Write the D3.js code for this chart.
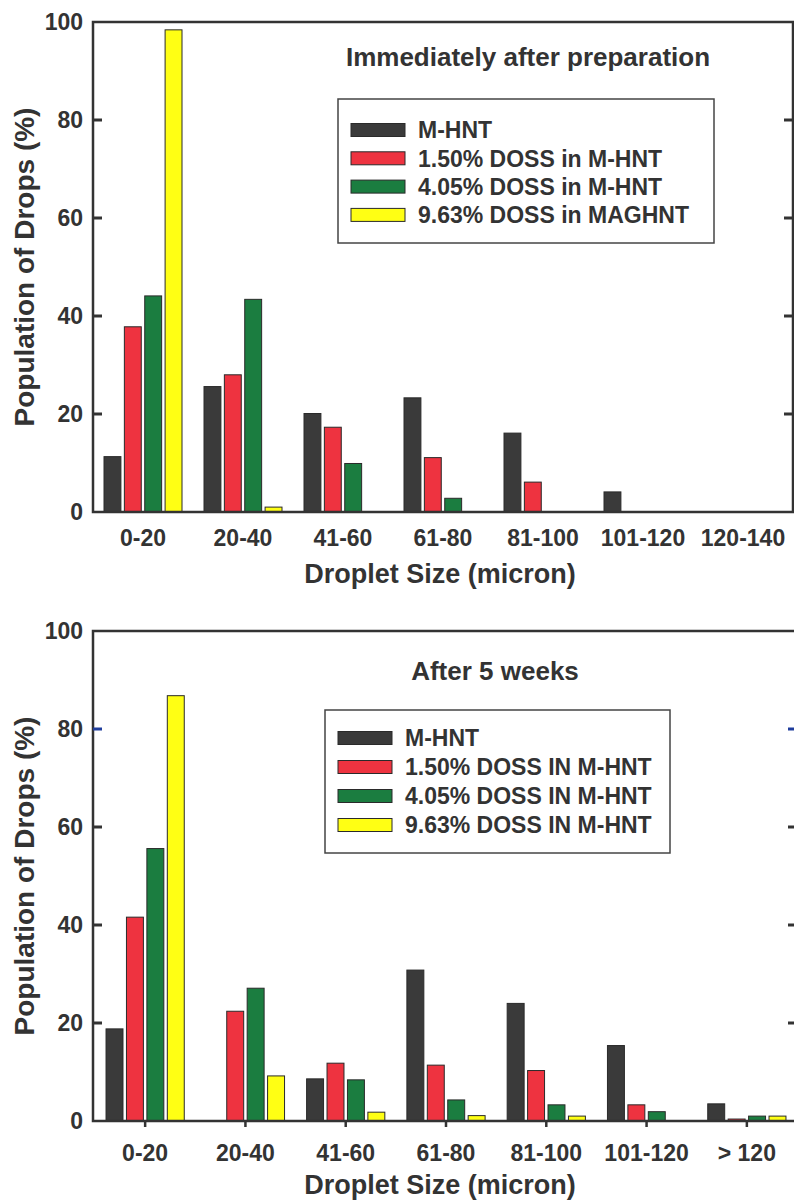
<!DOCTYPE html>
<html lang="en">
<head>
    <meta charset="UTF-8">
    <title>Droplet Size Distribution</title>
    <script src="https://cdnjs.cloudflare.com/ajax/libs/d3/7.8.5/d3.min.js"></script>
    <style>
        body {
            margin: 0;
            padding: 0;
            background-color: #fff;
            font-family: "Liberation Sans", Arial, sans-serif;
        }
        svg text {
            font-weight: bold;
            fill: #333;
        }
        .bar {
            stroke: #2a2a2a;
            stroke-width: 1;
        }
        .frame {
            fill: none;
            stroke: #333;
            stroke-width: 2.5;
        }
    </style>
</head>
<body>
    <div id="chart"></div>
    <script>
        // values (population of drops, %)
        const categoriesTop = ["0-20", "20-40", "41-60", "61-80", "81-100", "101-120", "120-140"];
        const categoriesBottom = ["0-20", "20-40", "41-60", "61-80", "81-100", "101-120", "> 120"];
        const seriesTop = ["M-HNT", "1.50% DOSS in M-HNT", "4.05% DOSS in M-HNT", "9.63% DOSS in MAGHNT"];
        const seriesBottom = ["M-HNT", "1.50% DOSS IN M-HNT", "4.05% DOSS IN M-HNT", "9.63% DOSS IN M-HNT"];

        const mhntTop      = [11.3, 25.6, 20.1, 23.3, 16.1, 4.1, 0];
        const doss150Top   = [37.8, 28.0, 17.3, 11.1, 6.1, 0, 0];
        const doss405Top   = [44.1, 43.4, 9.9, 2.8, 0, 0, 0];
        const doss963Top   = [98.4, 1.0, 0, 0, 0, 0, 0];

        const mhntBottom    = [18.8, 0, 8.6, 30.8, 24.0, 15.4, 3.5];
        const doss150Bottom = [41.6, 22.4, 11.8, 11.4, 10.3, 3.3, 0.4];
        const doss405Bottom = [55.6, 27.1, 8.4, 4.3, 3.3, 1.9, 1.0];
        const doss963Bottom = [86.8, 9.2, 1.8, 1.1, 1.0, 0, 1.0];

        const yTicks = [0, 20, 40, 60, 80, 100];
        const colors = ["#3a3a3a", "#ee3340", "#1b7d40", "#ffff14"];

        const svg = d3.select("#chart").append("svg")
            .attr("width", 794)
            .attr("height", 1203);

        function drawChart(cfg) {
            const g = svg.append("g");
            const y = d3.scaleLinear().domain([0, 100]).range([cfg.bottom, cfg.top]);
            const x0 = d3.scaleBand()
                .domain(cfg.categories)
                .range([cfg.bandLeft, cfg.bandRight])
                .paddingInner(0.22)
                .paddingOuter(0.11);
            const x1 = d3.scaleBand()
                .domain(cfg.series)
                .range([0, x0.bandwidth()])
                .paddingInner(0.17);

            // bars
            const rows = cfg.categories.map((c, i) => ({
                cat: c,
                vals: cfg.values.map((v, s) => ({ name: cfg.series[s], value: v[i], color: colors[s] }))
            }));
            const grp = g.selectAll(".grp")
                .data(rows)
                .enter().append("g")
                .attr("transform", d => `translate(${x0(d.cat)},0)`);
            grp.selectAll("rect")
                .data(d => d.vals.filter(v => v.value > 0))
                .enter().append("rect")
                .attr("class", "bar")
                .attr("x", d => x1(d.name))
                .attr("y", d => y(d.value))
                .attr("width", x1.bandwidth())
                .attr("height", d => y(0) - y(d.value))
                .attr("fill", d => d.color);

            // frame
            const left = cfg.left, right = cfg.right;
            g.append("path")
                .attr("class", "frame")
                .attr("d", `M${left},${cfg.bottom}V${cfg.top}H${right}V${cfg.bottom}Z`);

            // y ticks inside on both sides
            yTicks.slice(1, -1).forEach(t => {
                const col = (cfg.blueTick === t) ? "#1f3d9c" : "#333";
                g.append("line").attr("x1", left).attr("x2", left + 9)
                    .attr("y1", y(t)).attr("y2", y(t))
                    .attr("stroke", col).attr("stroke-width", 3);
                g.append("line").attr("x1", right - 9).attr("x2", right)
                    .attr("y1", y(t)).attr("y2", y(t))
                    .attr("stroke", col).attr("stroke-width", 3);
            });
            g.selectAll(".ytl")
                .data(yTicks)
                .enter().append("text")
                .attr("x", left - 10)
                .attr("y", d => y(d))
                .attr("dy", "0.36em")
                .attr("text-anchor", "end")
                .style("font-size", "23px")
                .text(d => d);

            // x ticks / labels
            if (cfg.xTicks) {
                cfg.categories.forEach(c => {
                    g.append("line")
                        .attr("x1", x0(c) + x0.bandwidth() / 2).attr("x2", x0(c) + x0.bandwidth() / 2)
                        .attr("y1", cfg.bottom).attr("y2", cfg.bottom + 6)
                        .attr("stroke", "#333").attr("stroke-width", 2.5);
                });
            }
            g.selectAll(".xtl")
                .data(cfg.categories)
                .enter().append("text")
                .attr("x", d => x0(d) + x0.bandwidth() / 2)
                .attr("y", cfg.xLabelY)
                .attr("text-anchor", "middle")
                .style("font-size", "23px")
                .text(d => d);

            // axis titles
            g.append("text")
                .attr("x", 440)
                .attr("y", cfg.xTitleY)
                .attr("text-anchor", "middle")
                .style("font-size", "27px")
                .text("Droplet Size (micron)");
            g.append("text")
                .attr("transform", `translate(34,${(cfg.top + cfg.bottom) / 2}) rotate(-90)`)
                .attr("text-anchor", "middle")
                .style("font-size", "28px")
                .text("Population of Drops (%)");

            // panel title
            g.append("text")
                .attr("x", cfg.titleX)
                .attr("y", cfg.titleY)
                .attr("text-anchor", "middle")
                .style("font-size", "26px")
                .text(cfg.title);

            // legend
            const lg = cfg.legend;
            g.append("rect")
                .attr("x", lg.x).attr("y", lg.y)
                .attr("width", lg.w).attr("height", lg.h)
                .attr("fill", "#fff")
                .attr("stroke", "#444").attr("stroke-width", 1.5);
            cfg.series.forEach((s, i) => {
                const cy = lg.y + lg.first + i * lg.step;
                g.append("rect")
                    .attr("class", "bar")
                    .attr("x", lg.x + 13).attr("y", cy - 6.5)
                    .attr("width", 54).attr("height", 13)
                    .attr("fill", colors[i]);
                g.append("text")
                    .attr("x", lg.x + 80)
                    .attr("y", cy)
                    .attr("dy", "0.36em")
                    .style("font-size", "23px")
                    .text(s);
            });
        }

        drawChart({
            categories: categoriesTop,
            series: seriesTop,
            values: [mhntTop, doss150Top, doss405Top, doss963Top],
            top: 22, bottom: 512, left: 93, right: 793,
            bandLeft: 93, bandRight: 793,
            xTicks: false,
            xLabelY: 546, xTitleY: 583,
            title: "Immediately after preparation", titleX: 528, titleY: 66,
            legend: { x: 338, y: 99, w: 376, h: 144, first: 31, step: 28.3 }
        });

        drawChart({
            categories: categoriesBottom,
            series: seriesBottom,
            values: [mhntBottom, doss150Bottom, doss405Bottom, doss963Bottom],
            top: 631, bottom: 1121, left: 93, right: 797,
            bandLeft: 95, bandRight: 797,
            xTicks: true, blueTick: 80,
            xLabelY: 1161, xTitleY: 1194,
            title: "After 5 weeks", titleX: 495, titleY: 680,
            legend: { x: 325, y: 710, w: 345, h: 143, first: 28, step: 29 }
        });
    </script>
</body>
</html>
